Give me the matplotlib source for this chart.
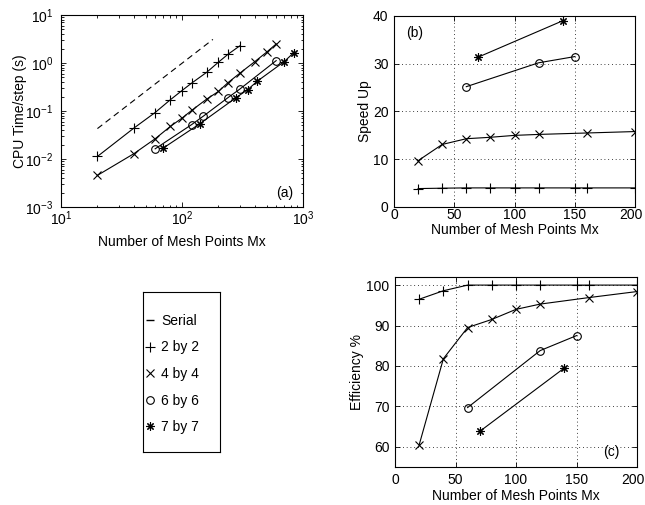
import matplotlib
matplotlib.use("Agg")
import matplotlib.pyplot as plt
import matplotlib.transforms as mtransforms
from matplotlib.lines import Line2D
from matplotlib.ticker import LogLocator, NullFormatter

plt.rcParams['font.family'] = ['Liberation Sans', 'DejaVu Sans']
plt.rcParams['font.size'] = 10
plt.rcParams['mathtext.fontset'] = 'custom'
plt.rcParams['mathtext.rm'] = 'Liberation Sans'
plt.rcParams['mathtext.it'] = 'Liberation Sans'

# ---------------- data ----------------
# (a) CPU time per step vs mesh points
serial_x = [20, 180]
serial_t = [0.043, 3.1]
a2_x = [20, 40, 60, 80, 100, 120, 160, 200, 240, 300]
a2_t = [0.0113, 0.044, 0.093, 0.171, 0.267, 0.38, 0.64, 1.04, 1.52, 2.27]
a4_x = [20, 40, 60, 80, 100, 120, 160, 200, 240, 300, 400, 500, 600]
a4_t = [0.00456, 0.0129, 0.0264, 0.0476, 0.0711, 0.1025, 0.177, 0.255, 0.39, 0.61, 1.07, 1.68, 2.49]
a6_x = [60, 120, 150, 240, 300, 600]
a6_t = [0.0163, 0.052, 0.078, 0.19, 0.285, 1.12]
a7_x = [70, 140, 280, 350, 420, 700, 840]
a7_t = [0.0169, 0.054, 0.19, 0.28, 0.42, 1.07, 1.65]

# (b) speed up, (c) efficiency
b2_x = [20, 40, 60, 80, 100, 120, 150, 160, 200]
b2_s = [3.86, 3.94, 4.0, 4.0, 4.0, 4.0, 4.0, 4.0, 4.0]
c2_e = [96.5, 98.6, 100, 100, 100, 100, 100, 100, 100]
b4_x = [20, 40, 60, 80, 100, 120, 160, 200]
b4_s = [9.7, 13.1, 14.3, 14.6, 15.0, 15.2, 15.5, 15.8]
c4_e = [60.5, 81.8, 89.5, 91.5, 94.0, 95.3, 96.9, 98.4]
b6_x = [60, 120, 150]
b6_s = [25.2, 30.2, 31.5]
c6_e = [69.7, 83.8, 87.5]
b7_x = [70, 140]
b7_s = [31.4, 39.0]
c7_e = [63.8, 79.5]

labels = ['Serial', '2 by 2', '4 by 4', '6 by 6', '7 by 7']
xlabel = 'Number of Mesh Points Mx'

# ---------------- style ----------------
LW = 0.8
MS = 5.5
MEW = 0.8
ASTER = (8, 2, 0)
styles = {
    '2': dict(marker='+', ms=MS + 1),
    '4': dict(marker='x', ms=MS),
    '6': dict(marker='o', ms=MS, mfc='none'),
    '7': dict(marker=ASTER, ms=MS + 0.5),
}


def plot_series(ax, x, y, key):
    ax.plot(x, y, color='black', lw=LW, mew=MEW, mec='black', **styles[key])


def style_axes(ax, xpad, ypad):
    for s in ax.spines.values():
        s.set_linewidth(0.8)
    ax.tick_params(which='both', direction='in', top=True, right=True,
                   colors='black', labelsize=10, width=0.6)
    ax.tick_params(which='major', length=3.5)
    ax.tick_params(which='minor', length=1.8)
    ax.tick_params(axis='x', which='major', pad=xpad)
    ax.tick_params(axis='y', which='major', pad=ypad)


def nudge_last_xlabel(ax, fig, dx_px):
    fig.canvas.draw()
    labs = ax.get_xticklabels()
    if labs:
        off = mtransforms.ScaledTranslation(dx_px / 100, 0, fig.dpi_scale_trans)
        labs[-1].set_transform(labs[-1].get_transform() + off)


W, H = 645, 505
fig = plt.figure(figsize=(W / 100, H / 100), dpi=100)


def rect(l, t, r, b):
    return [l / W, 1 - b / H, (r - l) / W, (b - t) / H]


# (a)
axa = fig.add_axes(rect(61, 15, 303, 207))
axa.plot(serial_x, serial_t, color='black', lw=LW, dashes=(5.5, 3.8))
plot_series(axa, a2_x, a2_t, '2')
plot_series(axa, a4_x, a4_t, '4')
plot_series(axa, a6_x, a6_t, '6')
plot_series(axa, a7_x, a7_t, '7')
axa.set_xscale('log')
axa.set_yscale('log')
axa.set_xlim(10, 1000)
axa.set_ylim(1e-3, 10)
axa.xaxis.set_major_locator(LogLocator(base=10, numticks=10))
axa.yaxis.set_major_locator(LogLocator(base=10, numticks=10))
axa.xaxis.set_minor_locator(LogLocator(base=10, subs=range(2, 10), numticks=20))
axa.yaxis.set_minor_locator(LogLocator(base=10, subs=range(2, 10), numticks=20))
axa.xaxis.set_minor_formatter(NullFormatter())
axa.yaxis.set_minor_formatter(NullFormatter())
style_axes(axa, 2.0, 5.5)
axa.set_xlabel(xlabel, labelpad=5)
axa.set_ylabel('CPU Time/step (s)', labelpad=-1.5)
axa.text(0.926, 0.073, '(a)', transform=axa.transAxes, ha='center', va='center')

# (b)
axb = fig.add_axes(rect(394, 16, 635, 207))
plot_series(axb, b2_x, b2_s, '2')
plot_series(axb, b4_x, b4_s, '4')
plot_series(axb, b6_x, b6_s, '6')
plot_series(axb, b7_x, b7_s, '7')
axb.set_xlim(0, 200)
axb.set_ylim(0, 40)
axb.set_xticks([0, 50, 100, 150, 200])
axb.set_yticks([0, 10, 20, 30, 40])
axb.grid(True, color='black', linestyle=(0, (1, 3.5)), lw=0.6)
style_axes(axb, 1.0, 4.0)
axb.set_xlabel(xlabel, labelpad=0.5)
axb.set_ylabel('Speed Up', labelpad=0.5)
axb.text(0.087, 0.911, '(b)', transform=axb.transAxes, ha='center', va='center')

# (c)
axc = fig.add_axes(rect(395, 277, 637, 467))
plot_series(axc, b2_x, c2_e, '2')
plot_series(axc, b4_x, c4_e, '4')
plot_series(axc, b6_x, c6_e, '6')
plot_series(axc, b7_x, c7_e, '7')
axc.set_xlim(0, 200)
axc.set_ylim(55, 102)
axc.set_xticks([0, 50, 100, 150, 200])
axc.set_yticks([60, 70, 80, 90, 100])
axc.grid(True, color='black', linestyle=(0, (1, 3.5)), lw=0.6)
style_axes(axc, 4.0, 4.0)
axc.set_xlabel(xlabel, labelpad=2)
axc.set_ylabel('Efficiency %', labelpad=1.7)
axc.text(0.895, 0.077, '(c)', transform=axc.transAxes, ha='center', va='center')

# legend box
axl = fig.add_axes(rect(143, 292, 220, 452))
axl.set_xticks([])
axl.set_yticks([])
for s in axl.spines.values():
    s.set_linewidth(0.8)
handles = [
    Line2D([], [], ls='none', marker='_', ms=6, mew=1.0, color='black'),
    Line2D([], [], ls='none', color='black', mew=MEW, **styles['2']),
    Line2D([], [], ls='none', color='black', mew=MEW, **styles['4']),
    Line2D([], [], ls='none', color='black', mew=MEW, **styles['6']),
    Line2D([], [], ls='none', color='black', mew=MEW, **styles['7']),
]
axl.legend(handles, labels, loc='center left', bbox_to_anchor=(0.0, 0.4875),
           frameon=False, handlelength=0.8, handletextpad=0.4,
           labelspacing=0.9, borderpad=0, borderaxespad=0.1, fontsize=10)

nudge_last_xlabel(axb, fig, -4)
nudge_last_xlabel(axc, fig, -4)

fig.savefig('out.png', dpi=100)
